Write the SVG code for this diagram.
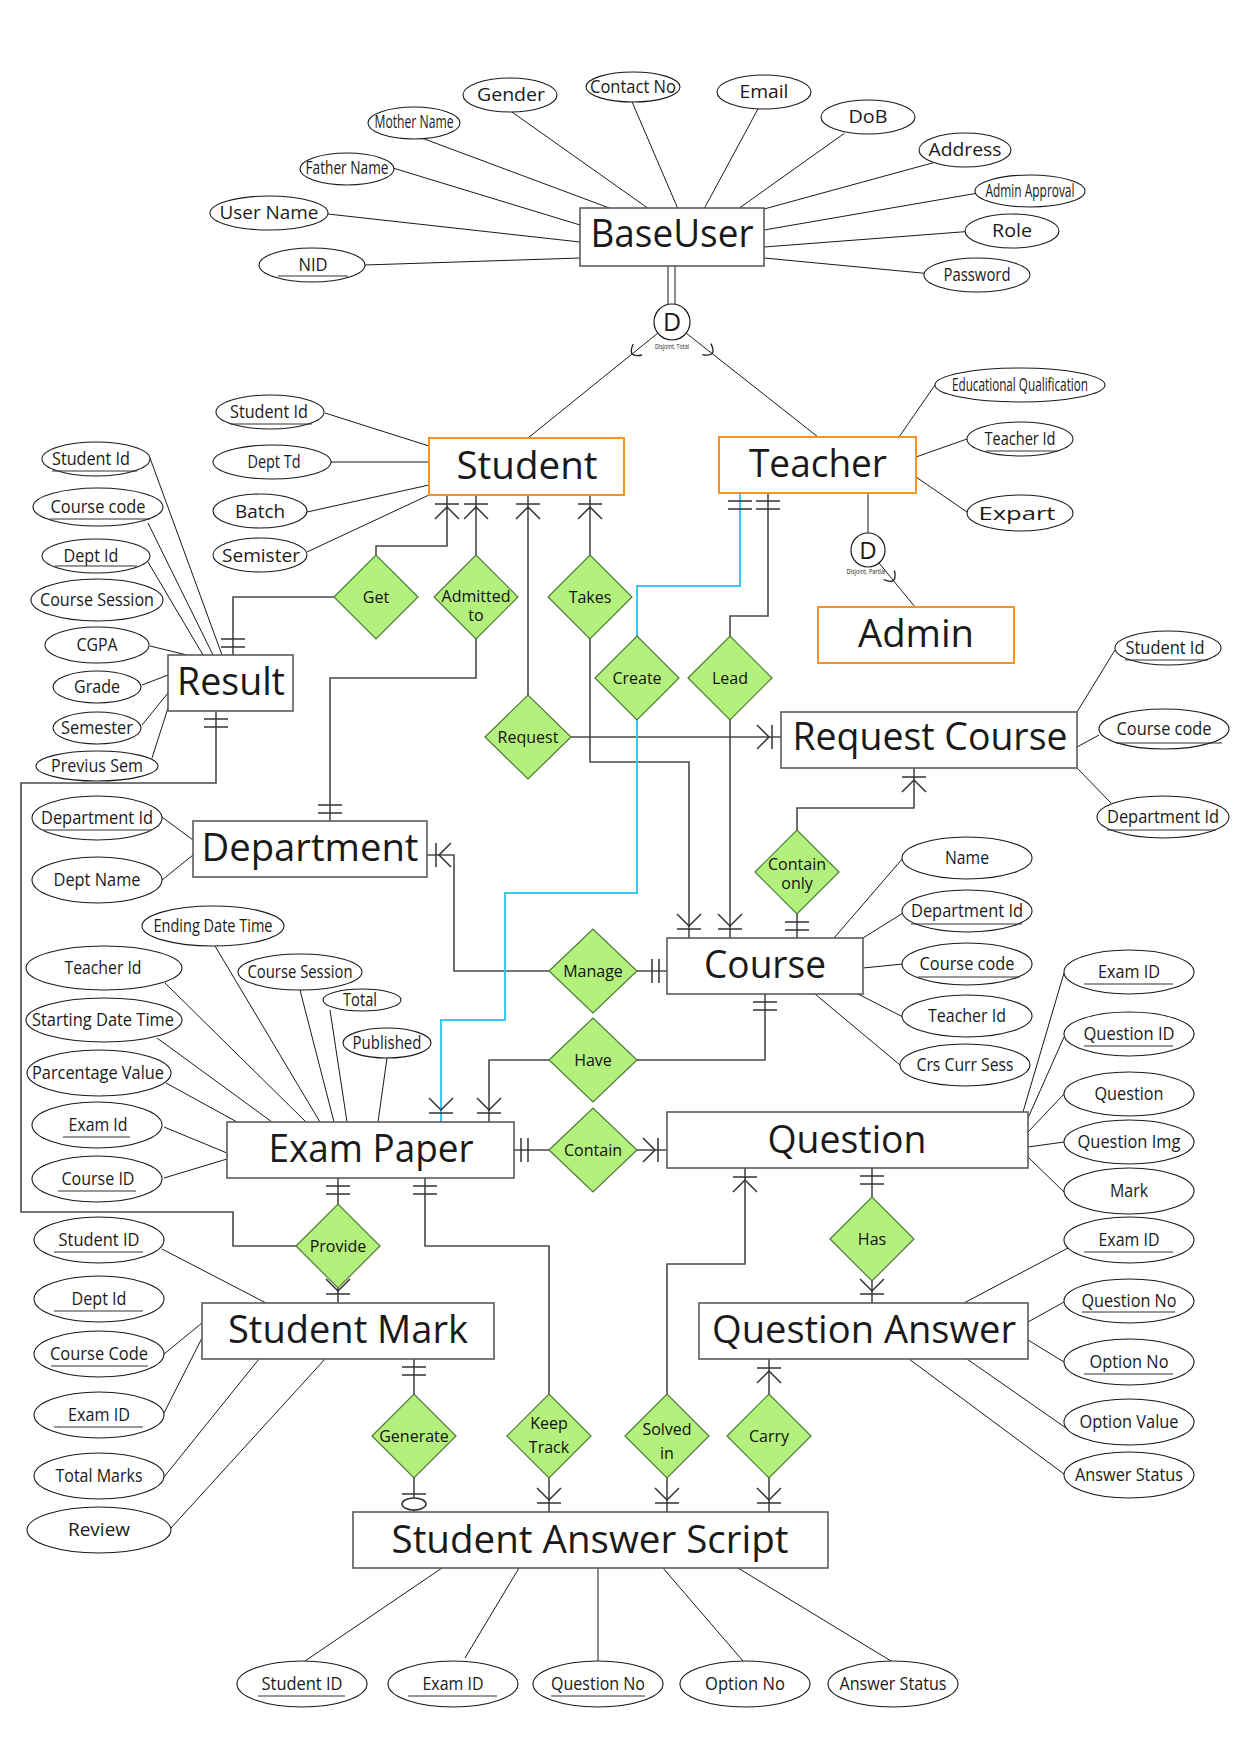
<svg xmlns="http://www.w3.org/2000/svg" width="1241" height="1755" viewBox="0 0 1241 1755">
<style>
text{font-family:"Open Sans","Noto Sans","Liberation Sans",sans-serif;fill:#1a1a1a;text-anchor:middle}
.e rect{fill:#fff;stroke:#5a5a5a;stroke-width:1.6}
.o rect{stroke:#f7931e;stroke-width:2}
.et{font-size:38px}
.a ellipse{fill:#fff;stroke:#1a1a1a;stroke-width:1.1}
.at{font-size:19px}
.ul{stroke:#333;stroke-width:1.2}
.r polygon{fill:#b3f07c;stroke:#4c7a35;stroke-width:1.2}
.rt{font-size:16px;fill:#111}
.l{stroke:#1a1a1a;stroke-width:1;fill:none}
.c{stroke:#4a4a4a;stroke-width:1.6;fill:none}
.b{stroke:#3cc6f2;stroke-width:2;fill:none}
.m{stroke:#333;stroke-width:1.5;fill:none}
.dc{fill:#fff;stroke:#1a1a1a;stroke-width:1.2}
</style>
<rect width="1241" height="1755" fill="#fff"/>

<g id="connectors">
<g class="l">
<path d="M511.5 111.7L649 209M422.5 138.3L612 209M632 101.7L678 209M758.3 108.3L704 209M844.4 133.3L738 209M933.4 162.7L764 209M393.8 168.3L580 225M327.8 214L580 242M365 265L580 258M976.5 193.3L764 230M965 231.7L764 247M924.8 273.3L764 258"/>
<path d="M325 413L429 446M331 462L429 462M307 512L429 485M307 552L429 495"/>
<path d="M150 458L222 655M148 523L213 655M148 562L203 655M150 646L187 655M142 685L168 675M142 725L168 693M152 758L168 708"/>
<path d="M899 437L935 385M916 457L967 439M916 477L967 512"/>
<path d="M1077 712L1115 650M1077 747L1099 735M1077 768L1111 803"/>
<path d="M162 817L193 840M162 880L193 855"/>
<path d="M834 938L903 858M863 938L903 913M863 968L903 964M858 994L903 1017M815 994L900 1065"/>
<path d="M165 983L306 1122M157 1038L272 1122M215 946L320 1122M300 990L334 1122M330 1010L347 1122M387 1058L378 1122M166 1083L237 1122M164 1127L227 1153M164 1178L227 1159"/>
<path d="M1064 973L1023 1112M1064 1037L1028 1118M1064 1094L1028 1132M1064 1142L1028 1147M1064 1192L1028 1157"/>
<path d="M1068 1248L964 1303M1064 1302L1028 1322M1064 1362L1028 1340M1066 1428L967 1359M1064 1474L909 1359"/>
<path d="M162 1249L266 1303M164 1354L202 1323M164 1413L202 1338M164 1477L259 1359M171 1528L325 1359"/>
<path d="M442 1568L305 1661M519 1568L465 1658M598 1568L598 1661M663 1568L743 1661M738 1568L891 1661"/>
<path d="M668 266V304M675 266V304"/>
<path d="M658 333L528 438M686 333L818 437M868 493V533M879 563L915 607"/>
<path d="M642 355Q626.7 358.3 633.2 344M702.4 354.6Q717.7 357.7 711 343.6M883.6 579.5Q897.9 585.8 894.4 570.5" stroke-width="1.3"/>
</g>
<g class="c">
<path d="M376 555V546H447V495M334 597H233V655"/>
<path d="M476 555V495M476 639V678H330V821"/>
<path d="M590 555V495M590 639V762H689V938"/>
<path d="M528 695V495M571 737H781"/>
<path d="M768 493V616H730V636M730 720V938"/>
<path d="M797 830V808H914V768M797 914V938"/>
<path d="M637 971H667M549 971H454V855H427"/>
<path d="M637 1060H765V994M549 1060H489V1122"/>
<path d="M549 1150H514M637 1150H667"/>
<path d="M216 711V783H21V1212H233V1246H296M338 1204V1178M338 1288V1303"/>
<path d="M425 1178V1246H549V1394M549 1478V1512"/>
<path d="M414 1359V1394M414 1478V1512"/>
<path d="M667 1394V1264H745V1168M667 1478V1512"/>
<path d="M769 1394V1359M769 1478V1512"/>
<path d="M872 1197V1168M872 1281V1303"/>
</g>
<path class="b" d="M740 493V586H637V636M637 720V893H505V1020H441V1122"/>
<g class="m">
<path d="M435 504H459M435 519L447 507L459 519M464 504H488M464 519L476 507L488 519M516 504H540M516 519L528 507L540 519M578 504H602M578 519L590 507L602 519"/>
<path d="M902 777H926M902 792L914 780L926 792M733 1177H757M733 1192L745 1180L757 1192M757 1368H781M757 1383L769 1371L781 1383"/>
<path d="M677 929H701M677 914L689 926L701 914M718 929H742M718 914L730 926L742 914"/>
<path d="M429 1113H453M429 1098L441 1110L453 1098M477 1113H501M477 1098L489 1110L501 1098"/>
<path d="M326 1294H350M326 1279L338 1291L350 1279M860 1294H884M860 1279L872 1291L884 1279"/>
<path d="M537 1503H561M537 1488L549 1500L561 1488M655 1503H679M655 1488L667 1500L679 1488M757 1503H781M757 1488L769 1500L781 1488"/>
<path d="M436 843V867M451 843L439 855L451 867M772 725V749M757 725L769 737L757 749M658 1138V1162M643 1138L655 1150L643 1162"/>
<path d="M221 647H245M221 639H245M204 719H228M204 727H228M728 501H752M728 509H752M756 501H780M756 509H780M318 813H342M318 805H342"/>
<path d="M785 930H809M785 922H809M753 1002H777M753 1010H777M326 1186H350M326 1194H350M413 1186H437M413 1194H437"/>
<path d="M860 1176H884M860 1184H884M402 1367H426M402 1375H426M659 959V983M652 959V983M521 1138V1162M528 1138V1162"/>
<path d="M402 1494H426"/>
<ellipse cx="414" cy="1504" rx="12" ry="6" fill="#fff"/>
</g>
</g>

<g id="disjoint-total">
<circle class="dc" cx="672" cy="322" r="18"/>
<text x="672" y="331" font-size="25">D</text>
<text x="672" y="349" font-size="8" textLength="34" lengthAdjust="spacingAndGlyphs">Disjoint, Total</text>
</g>
<g id="disjoint-partial">
<circle class="dc" cx="868" cy="550" r="17"/>
<text x="868" y="559" font-size="24">D</text>
<text x="866" y="574" font-size="8" textLength="39" lengthAdjust="spacingAndGlyphs">Disjoint, Partial</text>
</g>

<g id="baseuser" class="e"><rect x="580" y="208" width="184" height="58"/><text class="et" x="672" y="247" textLength="163" lengthAdjust="spacingAndGlyphs">BaseUser</text></g>
<g id="student" class="e o"><rect x="429" y="438" width="195" height="57"/><text class="et" x="527" y="479" textLength="141" lengthAdjust="spacingAndGlyphs">Student</text></g>
<g id="teacher" class="e o"><rect x="719" y="437" width="197" height="56"/><text class="et" x="818" y="477" textLength="138" lengthAdjust="spacingAndGlyphs">Teacher</text></g>
<g id="admin" class="e o"><rect x="818" y="607" width="196" height="56"/><text class="et" x="916" y="647" textLength="116" lengthAdjust="spacingAndGlyphs">Admin</text></g>
<g id="result" class="e"><rect x="168" y="655" width="125" height="56"/><text class="et" x="231" y="695" textLength="108" lengthAdjust="spacingAndGlyphs">Result</text></g>
<g id="request-course" class="e"><rect x="781" y="712" width="296" height="56"/><text class="et" x="930" y="750" textLength="275" lengthAdjust="spacingAndGlyphs">Request Course</text></g>
<g id="department" class="e"><rect x="193" y="821" width="234" height="56"/><text class="et" x="310" y="861" textLength="217" lengthAdjust="spacingAndGlyphs">Department</text></g>
<g id="course" class="e"><rect x="667" y="938" width="196" height="56"/><text class="et" x="765" y="978" textLength="122" lengthAdjust="spacingAndGlyphs">Course</text></g>
<g id="exam-paper" class="e"><rect x="227" y="1122" width="287" height="56"/><text class="et" x="371" y="1162" textLength="205" lengthAdjust="spacingAndGlyphs">Exam Paper</text></g>
<g id="question" class="e"><rect x="667" y="1112" width="361" height="56"/><text class="et" x="847" y="1153" textLength="159" lengthAdjust="spacingAndGlyphs">Question</text></g>
<g id="student-mark" class="e"><rect x="202" y="1303" width="292" height="56"/><text class="et" x="348" y="1343" textLength="240" lengthAdjust="spacingAndGlyphs">Student Mark</text></g>
<g id="question-answer" class="e"><rect x="699" y="1303" width="329" height="56"/><text class="et" x="864" y="1343" textLength="304" lengthAdjust="spacingAndGlyphs">Question Answer</text></g>
<g id="student-answer-script" class="e"><rect x="353" y="1512" width="475" height="56"/><text class="et" x="590" y="1553" textLength="397" lengthAdjust="spacingAndGlyphs">Student Answer Script</text></g>

<g id="rel-get" class="r"><polygon points="334,597 376,555 418,597 376,639"/><text class="rt" x="376" y="603">Get</text></g>
<g id="rel-admitted" class="r"><polygon points="434,597 476,555 518,597 476,639"/><text class="rt" x="476" y="602">Admitted</text><text class="rt" x="476" y="621">to</text></g>
<g id="rel-takes" class="r"><polygon points="548,597 590,555 632,597 590,639"/><text class="rt" x="590" y="603">Takes</text></g>
<g id="rel-request" class="r"><polygon points="485,737 528,695 571,737 528,779"/><text class="rt" x="528" y="743">Request</text></g>
<g id="rel-create" class="r"><polygon points="595,678 637,636 679,678 637,720"/><text class="rt" x="637" y="684">Create</text></g>
<g id="rel-lead" class="r"><polygon points="688,678 730,636 772,678 730,720"/><text class="rt" x="730" y="684">Lead</text></g>
<g id="rel-contain-only" class="r"><polygon points="755,872 797,830 839,872 797,914"/><text class="rt" x="797" y="870">Contain</text><text class="rt" x="797" y="889">only</text></g>
<g id="rel-manage" class="r"><polygon points="549,971 593,929 637,971 593,1013"/><text class="rt" x="593" y="977">Manage</text></g>
<g id="rel-have" class="r"><polygon points="549,1060 593,1018 637,1060 593,1102"/><text class="rt" x="593" y="1066">Have</text></g>
<g id="rel-contain" class="r"><polygon points="549,1150 593,1108 637,1150 593,1192"/><text class="rt" x="593" y="1156">Contain</text></g>
<g id="rel-provide" class="r"><polygon points="296,1246 338,1204 380,1246 338,1288"/><text class="rt" x="338" y="1252">Provide</text></g>
<g id="rel-has" class="r"><polygon points="830,1239 872,1197 914,1239 872,1281"/><text class="rt" x="872" y="1245">Has</text></g>
<g id="rel-generate" class="r"><polygon points="372,1436 414,1394 456,1436 414,1478"/><text class="rt" x="414" y="1442">Generate</text></g>
<g id="rel-keep-track" class="r"><polygon points="507,1436 549,1394 591,1436 549,1478"/><text class="rt" x="549" y="1429">Keep</text><text class="rt" x="549" y="1453">Track</text></g>
<g id="rel-solved-in" class="r"><polygon points="625,1436 667,1394 709,1436 667,1478"/><text class="rt" x="667" y="1435">Solved</text><text class="rt" x="667" y="1459">in</text></g>
<g id="rel-carry" class="r"><polygon points="727,1436 769,1394 811,1436 769,1478"/><text class="rt" x="769" y="1442">Carry</text></g>

<g id="bu-gender" class="a"><ellipse cx="510" cy="95" rx="47" ry="17"/><text class="at" x="511" y="101" textLength="68" lengthAdjust="spacingAndGlyphs">Gender</text></g>
<g id="bu-contact" class="a"><ellipse cx="633" cy="87" rx="47" ry="15"/><text class="at" x="633" y="93" font-size="17" textLength="86" lengthAdjust="spacingAndGlyphs">Contact No</text></g>
<g id="bu-email" class="a"><ellipse cx="764" cy="92" rx="47" ry="17"/><text class="at" x="764" y="98" textLength="49" lengthAdjust="spacingAndGlyphs">Email</text></g>
<g id="bu-dob" class="a"><ellipse cx="868" cy="117" rx="47" ry="17"/><text class="at" x="868" y="123" textLength="39" lengthAdjust="spacingAndGlyphs">DoB</text></g>
<g id="bu-address" class="a"><ellipse cx="965" cy="150" rx="46" ry="17"/><text class="at" x="965" y="156" textLength="73" lengthAdjust="spacingAndGlyphs">Address</text></g>
<g id="bu-admin-approval" class="a"><ellipse cx="1030" cy="191" rx="55" ry="16"/><text class="at" x="1030" y="197" font-size="16" textLength="89" lengthAdjust="spacingAndGlyphs">Admin Approval</text></g>
<g id="bu-role" class="a"><ellipse cx="1012" cy="231" rx="47" ry="17"/><text class="at" x="1012" y="237" textLength="40" lengthAdjust="spacingAndGlyphs">Role</text></g>
<g id="bu-password" class="a"><ellipse cx="977" cy="275" rx="53" ry="17"/><text class="at" x="977" y="281" font-size="17" textLength="67" lengthAdjust="spacingAndGlyphs">Password</text></g>
<g id="bu-mother" class="a"><ellipse cx="414" cy="123" rx="46" ry="16"/><text class="at" x="414" y="128" font-size="15" textLength="79" lengthAdjust="spacingAndGlyphs">Mother Name</text></g>
<g id="bu-father" class="a"><ellipse cx="347" cy="169" rx="47" ry="16"/><text class="at" x="347" y="174" font-size="15" textLength="83" lengthAdjust="spacingAndGlyphs">Father Name</text></g>
<g id="bu-username" class="a"><ellipse cx="269" cy="213" rx="59" ry="17"/><text class="at" x="269" y="219" textLength="99" lengthAdjust="spacingAndGlyphs">User Name</text></g>
<g id="bu-nid" class="a"><ellipse cx="312" cy="265" rx="53" ry="17"/><text class="at" x="313" y="271" textLength="29" lengthAdjust="spacingAndGlyphs">NID</text><line class="ul" x1="278" y1="276" x2="348" y2="276"/></g>

<g id="st-id" class="a"><ellipse cx="270" cy="412" rx="54" ry="17"/><text class="at" x="269" y="418" textLength="78" lengthAdjust="spacingAndGlyphs">Student Id</text><line class="ul" x1="230" y1="424" x2="312" y2="424"/></g>
<g id="st-dept" class="a"><ellipse cx="272" cy="462" rx="59" ry="17"/><text class="at" x="274" y="468" textLength="53" lengthAdjust="spacingAndGlyphs">Dept Td</text></g>
<g id="st-batch" class="a"><ellipse cx="260" cy="511" rx="47" ry="17"/><text class="at" x="260" y="518" textLength="50" lengthAdjust="spacingAndGlyphs">Batch</text></g>
<g id="st-semister" class="a"><ellipse cx="260" cy="555" rx="47" ry="17"/><text class="at" x="261" y="562" textLength="78" lengthAdjust="spacingAndGlyphs">Semister</text></g>

<g id="rs-student-id" class="a"><ellipse cx="96" cy="459" rx="54" ry="17"/><text class="at" x="91" y="465" textLength="78" lengthAdjust="spacingAndGlyphs">Student Id</text><line class="ul" x1="52" y1="471" x2="137" y2="471"/></g>
<g id="rs-course-code" class="a"><ellipse cx="98" cy="507" rx="65" ry="19"/><text class="at" x="98" y="513" textLength="95" lengthAdjust="spacingAndGlyphs">Course code</text><line class="ul" x1="50" y1="519" x2="150" y2="519"/></g>
<g id="rs-dept-id" class="a"><ellipse cx="96" cy="556" rx="54" ry="17"/><text class="at" x="91" y="562" textLength="55" lengthAdjust="spacingAndGlyphs">Dept Id</text><line class="ul" x1="55" y1="566" x2="137" y2="566"/></g>
<g id="rs-course-session" class="a"><ellipse cx="97" cy="600" rx="66" ry="21"/><text class="at" x="97" y="606" textLength="114" lengthAdjust="spacingAndGlyphs">Course Session</text></g>
<g id="rs-cgpa" class="a"><ellipse cx="97" cy="645" rx="52" ry="18"/><text class="at" x="97" y="651" textLength="41" lengthAdjust="spacingAndGlyphs">CGPA</text></g>
<g id="rs-grade" class="a"><ellipse cx="97" cy="687" rx="44" ry="16"/><text class="at" x="97" y="693" textLength="46" lengthAdjust="spacingAndGlyphs">Grade</text></g>
<g id="rs-semester" class="a"><ellipse cx="97" cy="728" rx="44" ry="16"/><text class="at" x="97" y="734" textLength="72" lengthAdjust="spacingAndGlyphs">Semester</text></g>
<g id="rs-previus-sem" class="a"><ellipse cx="97" cy="766" rx="61" ry="15"/><text class="at" x="97" y="772" textLength="92" lengthAdjust="spacingAndGlyphs">Previus Sem</text></g>

<g id="tc-edu" class="a"><ellipse cx="1020" cy="385" rx="85" ry="17"/><text class="at" x="1020" y="391" font-size="16" textLength="136" lengthAdjust="spacingAndGlyphs">Educational Qualification</text></g>
<g id="tc-id" class="a"><ellipse cx="1020" cy="439" rx="53" ry="17"/><text class="at" x="1020" y="445" textLength="71" lengthAdjust="spacingAndGlyphs">Teacher Id</text><line class="ul" x1="986" y1="451" x2="1058" y2="451"/></g>
<g id="tc-expart" class="a"><ellipse cx="1020" cy="513" rx="53" ry="18"/><text class="at" x="1017" y="520" font-size="22" textLength="77" lengthAdjust="spacingAndGlyphs">Expart</text></g>

<g id="rc-student-id" class="a"><ellipse cx="1168" cy="648" rx="53" ry="17"/><text class="at" x="1165" y="654" textLength="79" lengthAdjust="spacingAndGlyphs">Student Id</text><line class="ul" x1="1125" y1="660" x2="1208" y2="660"/></g>
<g id="rc-course-code" class="a"><ellipse cx="1164" cy="729" rx="65" ry="20"/><text class="at" x="1164" y="735" textLength="95" lengthAdjust="spacingAndGlyphs">Course code</text><line class="ul" x1="1116" y1="743" x2="1222" y2="743"/></g>
<g id="rc-dept-id" class="a"><ellipse cx="1163" cy="817" rx="66" ry="21"/><text class="at" x="1163" y="823" textLength="112" lengthAdjust="spacingAndGlyphs">Department Id</text><line class="ul" x1="1107" y1="830" x2="1216" y2="830"/></g>

<g id="dp-id" class="a"><ellipse cx="97" cy="818" rx="65" ry="22"/><text class="at" x="97" y="824" textLength="112" lengthAdjust="spacingAndGlyphs">Department Id</text><line class="ul" x1="43" y1="830" x2="152" y2="830"/></g>
<g id="dp-name" class="a"><ellipse cx="97" cy="880" rx="65" ry="23"/><text class="at" x="97" y="886" textLength="87" lengthAdjust="spacingAndGlyphs">Dept Name</text></g>

<g id="cs-name" class="a"><ellipse cx="967" cy="858" rx="65" ry="21"/><text class="at" x="967" y="864" textLength="44" lengthAdjust="spacingAndGlyphs">Name</text></g>
<g id="cs-dept-id" class="a"><ellipse cx="967" cy="911" rx="65" ry="21"/><text class="at" x="967" y="917" textLength="112" lengthAdjust="spacingAndGlyphs">Department Id</text><line class="ul" x1="911" y1="924" x2="1022" y2="924"/></g>
<g id="cs-code" class="a"><ellipse cx="967" cy="964" rx="65" ry="21"/><text class="at" x="967" y="970" textLength="95" lengthAdjust="spacingAndGlyphs">Course code</text><line class="ul" x1="918" y1="977" x2="1020" y2="977"/></g>
<g id="cs-teacher-id" class="a"><ellipse cx="967" cy="1016" rx="65" ry="21"/><text class="at" x="967" y="1022" textLength="78" lengthAdjust="spacingAndGlyphs">Teacher Id</text></g>
<g id="cs-crs-curr-sess" class="a"><ellipse cx="965" cy="1065" rx="65" ry="21"/><text class="at" x="965" y="1071" textLength="97" lengthAdjust="spacingAndGlyphs">Crs Curr Sess</text></g>

<g id="ep-end" class="a"><ellipse cx="213" cy="926" rx="71" ry="20"/><text class="at" x="213" y="932" textLength="119" lengthAdjust="spacingAndGlyphs">Ending Date Time</text></g>
<g id="ep-teacher-id" class="a"><ellipse cx="104" cy="968" rx="78" ry="22"/><text class="at" x="103" y="974" textLength="77" lengthAdjust="spacingAndGlyphs">Teacher Id</text></g>
<g id="ep-session" class="a"><ellipse cx="300" cy="972" rx="62" ry="18"/><text class="at" x="300" y="978" textLength="105" lengthAdjust="spacingAndGlyphs">Course Session</text></g>
<g id="ep-total" class="a"><ellipse cx="362" cy="1000" rx="39" ry="11"/><text class="at" x="360" y="1006" font-size="17" textLength="34" lengthAdjust="spacingAndGlyphs">Total</text></g>
<g id="ep-published" class="a"><ellipse cx="387" cy="1043" rx="44" ry="15"/><text class="at" x="387" y="1049" font-size="17" textLength="69" lengthAdjust="spacingAndGlyphs">Published</text></g>
<g id="ep-start" class="a"><ellipse cx="104" cy="1020" rx="78" ry="22"/><text class="at" x="103" y="1026" textLength="142" lengthAdjust="spacingAndGlyphs">Starting Date Time</text></g>
<g id="ep-percent" class="a"><ellipse cx="99" cy="1073" rx="72" ry="23"/><text class="at" x="98" y="1079" textLength="132" lengthAdjust="spacingAndGlyphs">Parcentage Value</text></g>
<g id="ep-exam-id" class="a"><ellipse cx="97" cy="1125" rx="65" ry="23"/><text class="at" x="98" y="1131" textLength="59" lengthAdjust="spacingAndGlyphs">Exam Id</text><line class="ul" x1="63" y1="1137" x2="130" y2="1137"/></g>
<g id="ep-course-id" class="a"><ellipse cx="97" cy="1179" rx="65" ry="23"/><text class="at" x="98" y="1185" textLength="73" lengthAdjust="spacingAndGlyphs">Course ID</text><line class="ul" x1="58" y1="1191" x2="136" y2="1191"/></g>

<g id="q-exam-id" class="a"><ellipse cx="1129" cy="972" rx="65" ry="22"/><text class="at" x="1129" y="978" textLength="62" lengthAdjust="spacingAndGlyphs">Exam ID</text><line class="ul" x1="1084" y1="984" x2="1173" y2="984"/></g>
<g id="q-question-id" class="a"><ellipse cx="1129" cy="1034" rx="65" ry="22"/><text class="at" x="1129" y="1040" textLength="91" lengthAdjust="spacingAndGlyphs">Question ID</text><line class="ul" x1="1084" y1="1046" x2="1173" y2="1046"/></g>
<g id="q-question" class="a"><ellipse cx="1129" cy="1094" rx="65" ry="22"/><text class="at" x="1129" y="1100" textLength="69" lengthAdjust="spacingAndGlyphs">Question</text></g>
<g id="q-img" class="a"><ellipse cx="1129" cy="1142" rx="65" ry="22"/><text class="at" x="1129" y="1148" textLength="103" lengthAdjust="spacingAndGlyphs">Question Img</text></g>
<g id="q-mark" class="a"><ellipse cx="1129" cy="1191" rx="65" ry="23"/><text class="at" x="1129" y="1197" textLength="38" lengthAdjust="spacingAndGlyphs">Mark</text></g>

<g id="qa-exam-id" class="a"><ellipse cx="1129" cy="1240" rx="65" ry="23"/><text class="at" x="1129" y="1246" textLength="61" lengthAdjust="spacingAndGlyphs">Exam ID</text><line class="ul" x1="1084" y1="1252" x2="1173" y2="1252"/></g>
<g id="qa-question-no" class="a"><ellipse cx="1129" cy="1301" rx="65" ry="22"/><text class="at" x="1129" y="1307" textLength="95" lengthAdjust="spacingAndGlyphs">Question No</text><line class="ul" x1="1082" y1="1312" x2="1175" y2="1312"/></g>
<g id="qa-option-no" class="a"><ellipse cx="1129" cy="1362" rx="65" ry="23"/><text class="at" x="1129" y="1368" textLength="79" lengthAdjust="spacingAndGlyphs">Option No</text><line class="ul" x1="1084" y1="1374" x2="1173" y2="1374"/></g>
<g id="qa-option-value" class="a"><ellipse cx="1129" cy="1422" rx="65" ry="23"/><text class="at" x="1129" y="1428" textLength="99" lengthAdjust="spacingAndGlyphs">Option Value</text></g>
<g id="qa-answer-status" class="a"><ellipse cx="1129" cy="1475" rx="65" ry="23"/><text class="at" x="1129" y="1481" textLength="108" lengthAdjust="spacingAndGlyphs">Answer Status</text></g>

<g id="sm-student-id" class="a"><ellipse cx="99" cy="1240" rx="65" ry="23"/><text class="at" x="99" y="1246" textLength="81" lengthAdjust="spacingAndGlyphs">Student ID</text><line class="ul" x1="54" y1="1252" x2="143" y2="1252"/></g>
<g id="sm-dept-id" class="a"><ellipse cx="99" cy="1299" rx="65" ry="23"/><text class="at" x="99" y="1305" textLength="55" lengthAdjust="spacingAndGlyphs">Dept Id</text><line class="ul" x1="54" y1="1311" x2="143" y2="1311"/></g>
<g id="sm-course-code" class="a"><ellipse cx="99" cy="1354" rx="65" ry="23"/><text class="at" x="99" y="1360" textLength="98" lengthAdjust="spacingAndGlyphs">Course Code</text><line class="ul" x1="51" y1="1366" x2="148" y2="1366"/></g>
<g id="sm-exam-id" class="a"><ellipse cx="99" cy="1415" rx="65" ry="23"/><text class="at" x="99" y="1421" textLength="62" lengthAdjust="spacingAndGlyphs">Exam ID</text><line class="ul" x1="54" y1="1427" x2="143" y2="1427"/></g>
<g id="sm-total-marks" class="a"><ellipse cx="99" cy="1476" rx="65" ry="23"/><text class="at" x="99" y="1482" textLength="87" lengthAdjust="spacingAndGlyphs">Total Marks</text></g>
<g id="sm-review" class="a"><ellipse cx="99" cy="1530" rx="72" ry="23"/><text class="at" x="99" y="1536" textLength="62" lengthAdjust="spacingAndGlyphs">Review</text></g>

<g id="sas-student-id" class="a"><ellipse cx="302" cy="1684" rx="65" ry="23"/><text class="at" x="302" y="1690" textLength="81" lengthAdjust="spacingAndGlyphs">Student ID</text><line class="ul" x1="258" y1="1696" x2="345" y2="1696"/></g>
<g id="sas-exam-id" class="a"><ellipse cx="453" cy="1684" rx="65" ry="23"/><text class="at" x="453" y="1690" textLength="61" lengthAdjust="spacingAndGlyphs">Exam ID</text><line class="ul" x1="408" y1="1696" x2="497" y2="1696"/></g>
<g id="sas-question-no" class="a"><ellipse cx="598" cy="1684" rx="65" ry="23"/><text class="at" x="598" y="1690" textLength="94" lengthAdjust="spacingAndGlyphs">Question No</text><line class="ul" x1="551" y1="1696" x2="645" y2="1696"/></g>
<g id="sas-option-no" class="a"><ellipse cx="745" cy="1684" rx="65" ry="23"/><text class="at" x="745" y="1690" textLength="80" lengthAdjust="spacingAndGlyphs">Option No</text></g>
<g id="sas-answer-status" class="a"><ellipse cx="893" cy="1684" rx="65" ry="23"/><text class="at" x="893" y="1690" textLength="107" lengthAdjust="spacingAndGlyphs">Answer Status</text></g>
</svg>
